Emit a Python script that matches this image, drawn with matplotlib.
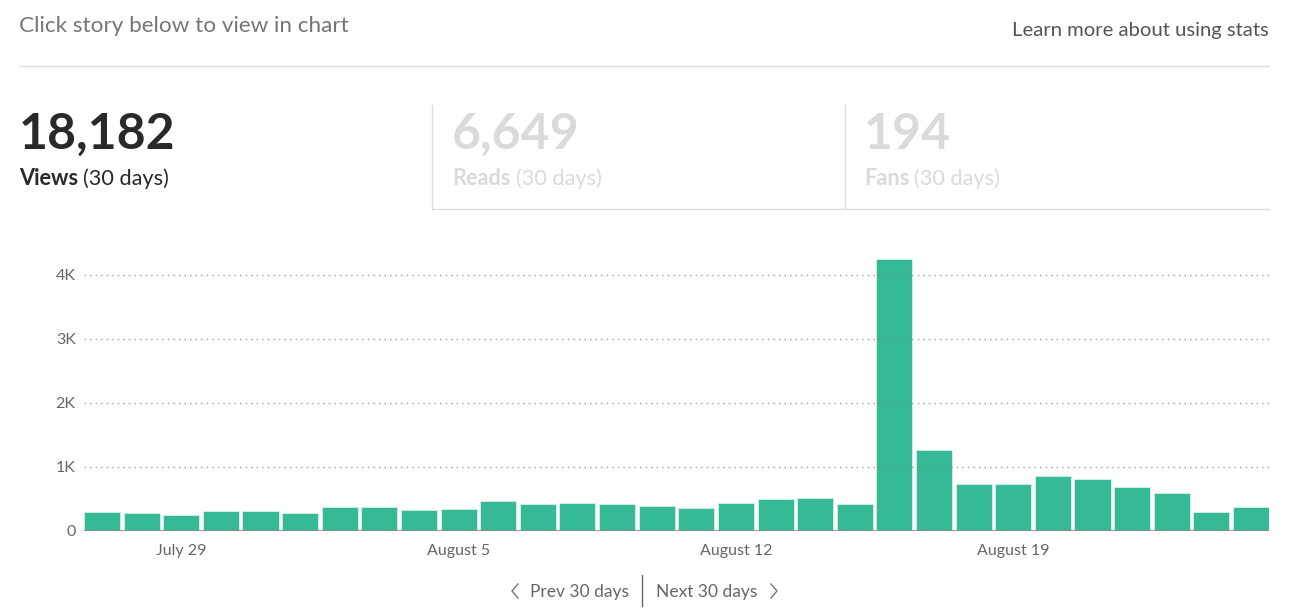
import matplotlib
matplotlib.use("Agg")
import matplotlib.pyplot as plt
from matplotlib.lines import Line2D

plt.rcParams['font.family'] = ['Lato', 'DejaVu Sans']

# vistas diarias, 27 julio - 25 agosto
dias = ["Jul 27", "Jul 28", "Jul 29", "Jul 30", "Jul 31", "Aug 1", "Aug 2", "Aug 3",
        "Aug 4", "Aug 5", "Aug 6", "Aug 7", "Aug 8", "Aug 9", "Aug 10", "Aug 11",
        "Aug 12", "Aug 13", "Aug 14", "Aug 15", "Aug 16", "Aug 17", "Aug 18",
        "Aug 19", "Aug 20", "Aug 21", "Aug 22", "Aug 23", "Aug 24", "Aug 25"]
vistas = [300, 280, 250, 310, 310, 280, 380, 375, 335, 350, 465, 415, 440, 425, 395,
          355, 430, 500, 510, 425, 4245, 1265, 730, 735, 855, 820, 690, 600, 295, 370]

etiquetas_x = {"Jul 29": "July 29", "Aug 5": "August 5", "Aug 12": "August 12", "Aug 19": "August 19"}
valores_y = [0, 1000, 2000, 3000, 4000]
etiquetas_y = ["0", "1K", "2K", "3K", "4K"]

totales = [("18,182", "Views", "#292929"), ("6,649", "Reads", "#dadada"), ("194", "Fans", "#dadada")]

W, H = 1308, 615
fig = plt.figure(figsize=(W / 100, H / 100), dpi=100)


def fx(x):
    return x / W


def fy(y):
    return 1 - y / H


def linea(x0, y0, x1, y1, color="#dddddd", lw=1.0):
    fig.add_artist(Line2D([fx(x0), fx(x1)], [fy(y0), fy(y1)], transform=fig.transFigure,
                          color=color, lw=lw))


# encabezado
fig.text(fx(19), fy(32), "Click story below to view in chart", fontsize=16.2, color="#757575", va="baseline")
fig.text(fx(1269), fy(36), "Learn more about using stats", fontsize=14.6, color="#555555",
         va="baseline", ha="right")
linea(19, 66, 1269, 66)

# cajas de totales
r = fig.canvas.get_renderer()
xs = [19, 452, 864]
for (num, nombre, col), x in zip(totales, xs):
    fig.text(fx(x), fy(149), num, fontsize=36, fontweight="bold", color=col, va="baseline")
    t = fig.text(fx(x), fy(185), nombre, fontsize=15.7, fontweight="bold", color=col, va="baseline")
    ancho = t.get_window_extent(renderer=r).width
    fig.text(fx(x + ancho + 5), fy(185), "(30 days)", fontsize=15.7, color=col, va="baseline")
linea(432, 105, 432, 209)
linea(845, 105, 845, 209)
linea(432, 209, 1269, 209)

# grafico de barras
ax = fig.add_axes([fx(84), fy(531), fx(1269) - fx(84), fy(240) - fy(531)])
pos = list(range(len(vistas)))
ancho_barra = 0.91
ax.bar(pos, vistas, width=ancho_barra, align="edge", color="#36b995", edgecolor="#d8f0e8",
       linewidth=0.6, zorder=2)
ax.set_xlim(0, len(vistas) - 1 + ancho_barra)
ax.set_ylim(0, 291 / 64 * 1000)
for v in valores_y[1:]:
    ax.axhline(v, color="#888888", lw=1.0, ls=(0, (1, 3)), zorder=3, alpha=0.8)
ax.axhline(0, color="#8a8a8a", lw=1.2, zorder=4)
ax.set_yticks(valores_y)
ax.set_yticklabels(etiquetas_y)
xt = [dias.index(d) + ancho_barra / 2 for d in etiquetas_x]
ax.set_xticks(xt)
ax.set_xticklabels(list(etiquetas_x.values()))
ax.tick_params(length=0, labelsize=11.5, labelcolor="#666666")
ax.tick_params(axis="y", pad=6)
ax.tick_params(axis="x", pad=9)
for s in ax.spines.values():
    s.set_visible(False)

# navegacion
fig.text(fx(629), fy(597), "Prev 30 days", fontsize=12.5, color="#666666", ha="right", va="baseline")
fig.text(fx(656), fy(597), "Next 30 days", fontsize=12.5, color="#666666", ha="left", va="baseline")
linea(642, 575, 642, 606, color="#666666")
fig.add_artist(Line2D([fx(518), fx(512), fx(518)], [fy(584), fy(591), fy(598)],
                      transform=fig.transFigure, color="#777777", lw=1.0))
fig.add_artist(Line2D([fx(771), fx(777), fx(771)], [fy(584), fy(591), fy(598)],
                      transform=fig.transFigure, color="#777777", lw=1.0))

fig.savefig("out.png", dpi=100)
